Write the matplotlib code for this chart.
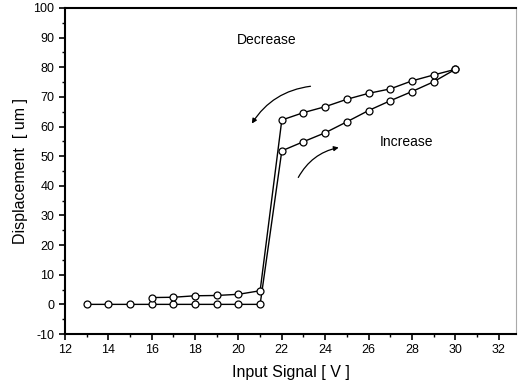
import matplotlib.pyplot as plt

plt.rcParams['font.family'] = ['Liberation Sans', 'DejaVu Sans']
plt.rcParams['axes.unicode_minus'] = False

# voltage steps (V) and measured displacement (um)
v_inc = [13, 14, 15, 16, 17, 18, 19, 20, 21, 22, 23, 24, 25, 26, 27, 28, 29, 30]
d_inc = [0, 0, 0, 0, 0, 0, 0, 0, 0, 51.8, 54.9, 57.9, 61.6, 65.4, 68.7, 71.8, 75.1, 79.3]

v_dec = [30, 29, 28, 27, 26, 25, 24, 23, 22, 21, 20, 19, 18, 17, 16]
d_dec = [79.3, 77.4, 75.4, 72.7, 71.2, 69.2, 66.7, 64.7, 62.2, 4.6, 3.4, 3.0, 2.9, 2.4, 2.3]

fig = plt.figure(figsize=(5.19, 3.86), dpi=100)
ax = fig.add_axes([0.1252, 0.1347, 0.869, 0.8446])

style = dict(color='black', lw=1.0, marker='o', ms=5, mfc='white', mec='black', mew=0.9)
ax.plot(v_inc, d_inc, **style)
ax.plot(v_dec, d_dec, **style)

# direction arrows
ax.annotate('', xy=(20.55, 60.2), xytext=(23.45, 73.7),
            arrowprops=dict(arrowstyle='-|>', color='black', lw=0.9,
                            mutation_scale=7, connectionstyle='arc3,rad=0.25'))
ax.annotate('', xy=(24.75, 53.1), xytext=(22.7, 42.0),
            arrowprops=dict(arrowstyle='-|>', color='black', lw=0.9,
                            mutation_scale=7, connectionstyle='arc3,rad=-0.25'))
ax.text(21.3, 89.2, 'Decrease', fontsize=10, ha='center', va='center')
ax.text(27.75, 54.8, 'Increase', fontsize=10, ha='center', va='center')

ax.set_xlim(12, 32.8)
ax.set_ylim(-10, 100)
ax.set_xticks(range(12, 33, 2))
ax.set_xticks(range(12, 33, 1), minor=True)
ax.set_yticks(range(-10, 101, 10))
ax.set_yticks(range(-10, 101, 5), minor=True)
ax.tick_params(which='major', direction='out', length=4, width=1.2, labelsize=9)
ax.tick_params(which='minor', direction='out', length=2.5, width=1.0)
for s in ax.spines.values():
    s.set_linewidth(1.5)
ax.spines['right'].set_linewidth(0.8)
ax.spines['right'].set_color('#aaaaaa')

ax.set_xlabel('Input Signal [ V ]', fontsize=11.5, labelpad=6)
ax.set_ylabel('Displacement  [ um ]', fontsize=11.5, labelpad=4)

fig.savefig('out.png', dpi=100)
